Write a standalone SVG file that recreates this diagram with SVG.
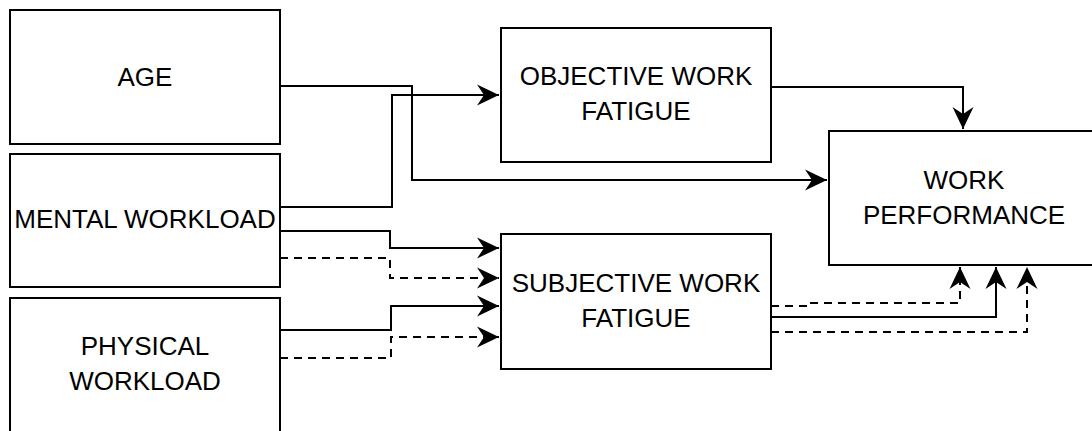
<svg xmlns="http://www.w3.org/2000/svg" width="1092" height="431" viewBox="0 0 1092 431">
<style>
.box{fill:#fff;stroke:#000;stroke-width:2}
.lbl{font-family:"Liberation Sans",Arial,sans-serif;font-size:26px;fill:#000;text-anchor:middle}
.c{fill:none;stroke:#000;stroke-width:2}
.d{stroke-dasharray:8 6}
</style>
<defs>
<marker id="arr" viewBox="-23 -12 24 24" markerWidth="24" markerHeight="24" refX="0" refY="0" orient="auto" markerUnits="userSpaceOnUse">
<path d="M0,0 L-22,-10.5 L-15,0 L-22,10.5 Z" fill="#000"/>
</marker>
</defs>
<rect width="1092" height="431" fill="#fff"/>
<g id="age">
<rect class="box" x="10" y="10" width="270" height="134"/>
<text class="lbl" x="145" y="86">AGE</text>
</g>
<g id="mental">
<rect class="box" x="10" y="154" width="270" height="133"/>
<text class="lbl" x="145" y="228">MENTAL WORKLOAD</text>
</g>
<g id="physical">
<rect class="box" x="10" y="298" width="270" height="140"/>
<text class="lbl" x="145" y="355">PHYSICAL</text>
<text class="lbl" x="145" y="390">WORKLOAD</text>
</g>
<g id="objective">
<rect class="box" x="501" y="28" width="270" height="134"/>
<text class="lbl" x="636" y="85">OBJECTIVE WORK</text>
<text class="lbl" x="636" y="120">FATIGUE</text>
</g>
<g id="subjective">
<rect class="box" x="501" y="234" width="270" height="135"/>
<text class="lbl" x="636" y="292">SUBJECTIVE WORK</text>
<text class="lbl" x="636" y="327">FATIGUE</text>
</g>
<g id="performance">
<rect class="box" x="829" y="131" width="270" height="134"/>
<text class="lbl" x="964" y="189">WORK</text>
<text class="lbl" x="964" y="224">PERFORMANCE</text>
</g>
<g id="connectors">
<path class="c" d="M280,86 H412 V180 H827" marker-end="url(#arr)"/>
<path class="c" d="M280,207 H392 V95 H499" marker-end="url(#arr)"/>
<path class="c" d="M771,87 H963 V129" marker-end="url(#arr)"/>
<path class="c" d="M280,231 H390 V248 H499" marker-end="url(#arr)"/>
<path class="c d" d="M280,258 H390 V278 H499" marker-end="url(#arr)"/>
<path class="c" d="M280,330 H391 V306 H499" marker-end="url(#arr)"/>
<path class="c d" d="M280,358 H391 V337 H499" marker-end="url(#arr)"/>
<path class="c d" d="M771,306 H810 V303 H960 V267" marker-end="url(#arr)"/>
<path class="c" d="M771,317 H996 V267" marker-end="url(#arr)"/>
<path class="c d" d="M771,332 H1027 V267" marker-end="url(#arr)"/>
</g>
</svg>
